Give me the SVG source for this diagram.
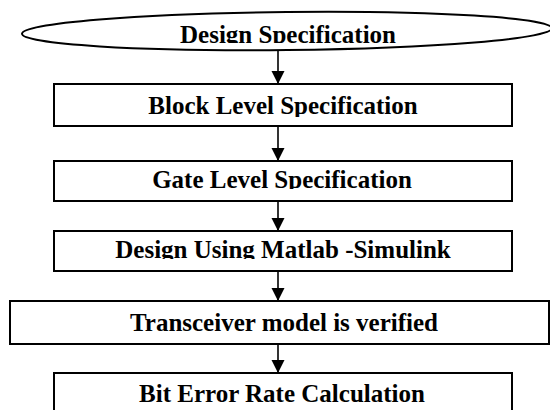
<svg xmlns="http://www.w3.org/2000/svg" width="550" height="410" viewBox="0 0 550 410">
  <style>
    .shape { fill: #ffffff; stroke: #000000; stroke-width: 2; }
    .label { font-family: "Liberation Serif", "Times New Roman", Times, "DejaVu Serif", serif; font-weight: 700; font-size: 25px; fill: #000000; text-anchor: middle; }
    .link { stroke: #000000; stroke-width: 1.6; fill: none; }
  </style>
  <defs>
    <marker id="arrow" markerUnits="userSpaceOnUse" markerWidth="13" markerHeight="16" refX="13" refY="6.5" orient="auto">
      <path d="M0,0 L13,6.5 L0,13 Z" fill="#000000"/>
    </marker>
    <!-- text frames cut off descenders at the frame's lower edge -->
    <clipPath id="clip-spec"><rect x="0" y="0" width="550" height="43"/></clipPath>
    <clipPath id="clip-block"><rect x="0" y="86" width="550" height="31"/></clipPath>
    <clipPath id="clip-gate"><rect x="0" y="163" width="550" height="26"/></clipPath>
    <clipPath id="clip-design"><rect x="0" y="233" width="550" height="26"/></clipPath>
    <clipPath id="clip-trx"><rect x="0" y="303" width="550" height="29"/></clipPath>
    <clipPath id="clip-ber"><rect x="0" y="375" width="550" height="30"/></clipPath>
  </defs>

  <g id="connectors">
    <line class="link" x1="278" y1="50" x2="278" y2="84" marker-end="url(#arrow)"/>
    <line class="link" x1="278" y1="126" x2="278" y2="161" marker-end="url(#arrow)"/>
    <line class="link" x1="278" y1="201" x2="278" y2="231" marker-end="url(#arrow)"/>
    <line class="link" x1="278" y1="271" x2="278" y2="301" marker-end="url(#arrow)"/>
    <line class="link" x1="278" y1="344" x2="278" y2="373" marker-end="url(#arrow)"/>
  </g>

  <g id="design-spec">
    <ellipse class="shape" cx="287" cy="31" rx="265" ry="19" transform="rotate(-0.6 287 31)"/>
    <text class="label" x="288" y="43" clip-path="url(#clip-spec)">Design Specification</text>
  </g>

  <g id="block-level">
    <rect class="shape" x="54" y="84" width="458" height="42"/>
    <text class="label" x="283" y="114" clip-path="url(#clip-block)">Block Level Specification</text>
  </g>

  <g id="gate-level">
    <rect class="shape" x="54" y="161" width="458" height="40"/>
    <text class="label" x="282" y="188" clip-path="url(#clip-gate)">Gate Level Specification</text>
  </g>

  <g id="matlab-design">
    <rect class="shape" x="54" y="231" width="458" height="40"/>
    <text class="label" x="283" y="258" clip-path="url(#clip-design)">Design Using Matlab -Simulink</text>
  </g>

  <g id="transceiver">
    <rect class="shape" x="10" y="301" width="539" height="43"/>
    <text class="label" x="284" y="331" clip-path="url(#clip-trx)">Transceiver model is verified</text>
  </g>

  <g id="ber">
    <rect class="shape" x="54" y="373" width="458" height="42"/>
    <text class="label" x="282" y="402" clip-path="url(#clip-ber)">Bit Error Rate Calculation</text>
  </g>
</svg>
